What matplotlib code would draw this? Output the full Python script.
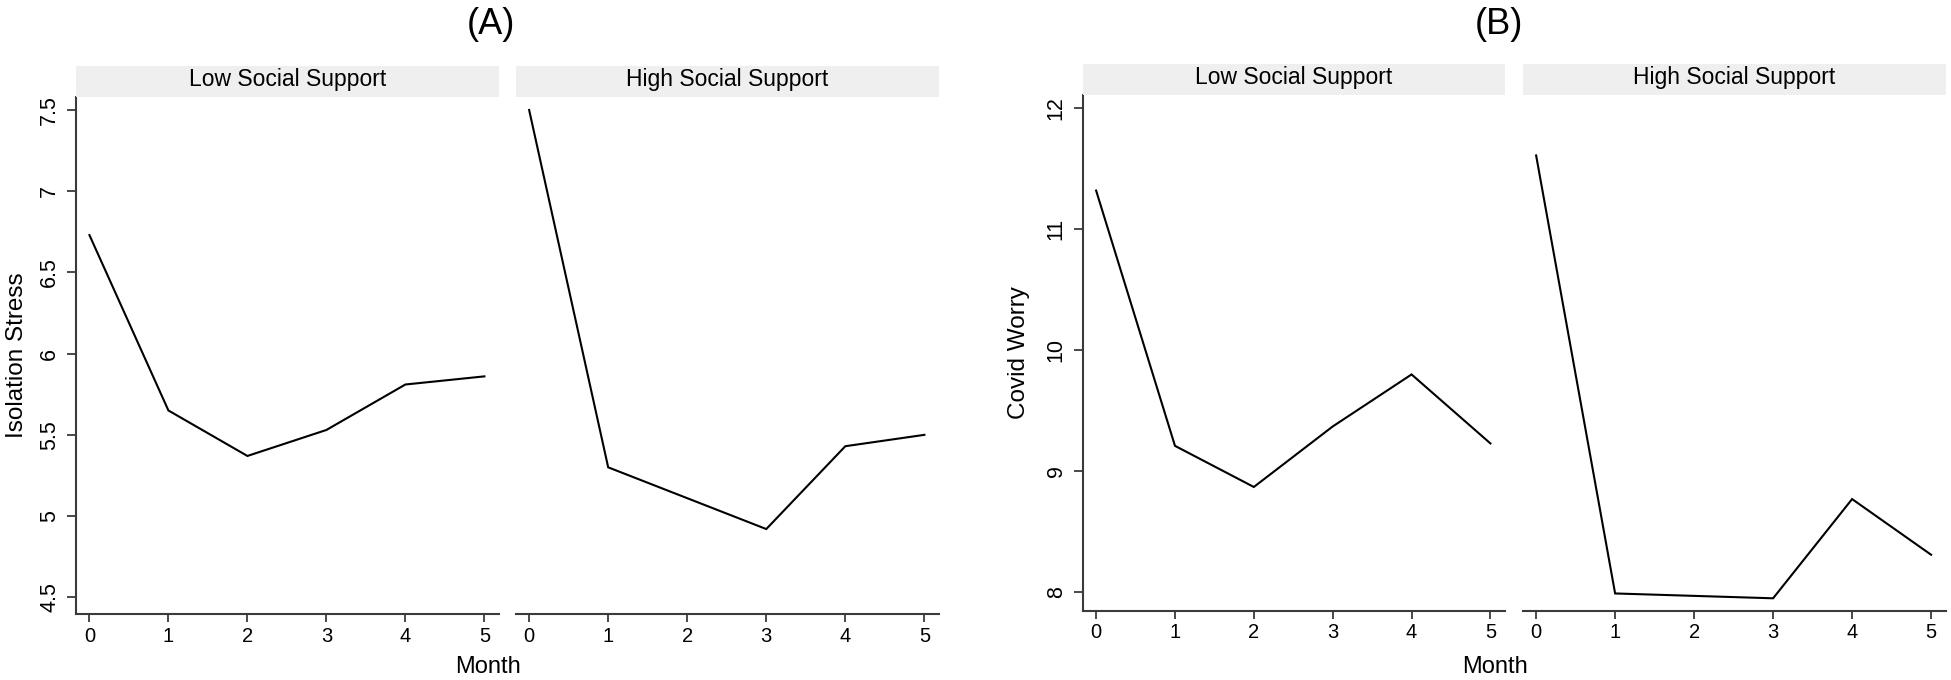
import numpy as np
import matplotlib.pyplot as plt

plt.rcParams["font.family"] = ["Liberation Sans", "DejaVu Sans"]

months = [0, 1, 2, 3, 4, 5]
groups = ["Low Social Support", "High Social Support"]

# (A) isolation stress by month
stress_low = [6.73, 5.65, 5.37, 5.53, 5.81, 5.86]
stress_high = [7.50, 5.30, 5.11, 4.92, 5.43, 5.50]
stress_ticks = [4.5, 5, 5.5, 6, 6.5, 7, 7.5]
stress_labels = ["4.5", "5", "5.5", "6", "6.5", "7", "7.5"]

# (B) covid worry by month
worry_low = [11.32, 9.21, 8.87, 9.37, 9.80, 9.23]
worry_high = [11.61, 7.99, 7.97, 7.95, 8.77, 8.31]
worry_ticks = [8, 9, 10, 11, 12]
worry_labels = ["8", "9", "10", "11", "12"]

W, H = 1951, 680
fig = plt.figure(figsize=(W / 100, H / 100), dpi=100)

SPINE = "#3a3a3a"
STRIP = "#efefef"


def px_axes(x0, x1, top, bottom):
	return fig.add_axes([x0 / W, 1 - bottom / H, (x1 - x0) / W, (bottom - top) / H])


def panel(x0, x1, top, bottom, ys, ylim, yticks, ylabels, title, first, ylabel=None, lab_x=None):
	ax = px_axes(x0, x1, top, bottom)
	ax.plot(months, ys, color="black", lw=1.5, solid_joinstyle="miter")
	ax.set_xlim(-0.17, 5.185)
	ax.set_ylim(*ylim)
	ax.set_xticks(months)
	ax.tick_params(axis="x", length=6, width=1.3, color=SPINE, labelsize=14.5, pad=3)
	for s in ["top", "right"]:
		ax.spines[s].set_visible(False)
	ax.spines["bottom"].set_color(SPINE)
	ax.spines["bottom"].set_linewidth(1.5)
	if first:
		ax.spines["left"].set_color(SPINE)
		ax.spines["left"].set_linewidth(1.5)
		ax.set_yticks(yticks)
		ax.set_yticklabels(ylabels, rotation=90, va="center")
		ax.tick_params(axis="y", length=6.5, width=1.3, color=SPINE, labelsize=15.5, pad=5)
		ax.set_ylabel(ylabel, fontsize=17.5)
		ax.yaxis.set_label_coords(lab_x, 0.5)
	else:
		ax.spines["left"].set_visible(False)
		ax.set_yticks([])
	# facet strip
	st = px_axes(x0, x1, top - 31, top)
	st.set_facecolor(STRIP)
	st.set_xticks([])
	st.set_yticks([])
	for s in st.spines.values():
		s.set_visible(False)
	st.text(0.5, 0.36, title, ha="center", va="baseline", fontsize=16.5, transform=st.transAxes)
	return ax


# panel A
panel(76, 499, 97, 614, stress_low, (4.397, 7.58), stress_ticks, stress_labels,
	groups[0], True, "Isolation Stress", -0.1135)
panel(515.7, 939, 97, 614, stress_high, (4.397, 7.58), stress_ticks, stress_labels,
	groups[1], False)

# panel B
panel(1082.7, 1505, 94.7, 611, worry_low, (7.845, 12.112), worry_ticks, worry_labels,
	groups[0], True, "Covid Worry", -0.125)
panel(1522.7, 1945.7, 94.7, 611, worry_high, (7.845, 12.112), worry_ticks, worry_labels,
	groups[1], False)

fig.text(491 / W, 1 - 33.5 / H, "(A)", ha="center", va="baseline", fontsize=26)
fig.text(1499 / W, 1 - 33.5 / H, "(B)", ha="center", va="baseline", fontsize=26)
fig.text(487.5 / W, 1 - 673 / H, "Month", ha="center", va="baseline", fontsize=17)
fig.text(1495 / W, 1 - 673 / H, "Month", ha="center", va="baseline", fontsize=17)

plt.savefig("out.png", dpi=100)
